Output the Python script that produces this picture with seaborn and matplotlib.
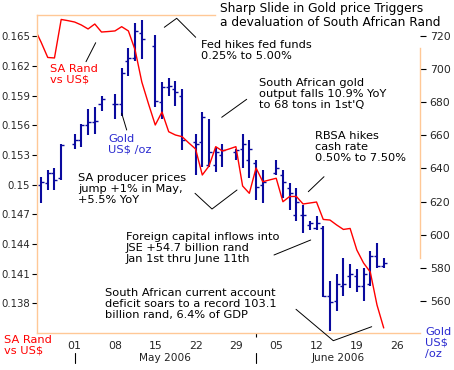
import numpy as np
import matplotlib
matplotlib.use('Agg')
import matplotlib.pyplot as plt
import matplotlib.ticker as mticker
import matplotlib.transforms as mtransforms
from matplotlib.lines import Line2D
import seaborn as sns

# Gold daily OHLC, US$/oz (two Sunday sessions in June)
gold_dates = ['2006-04-25', '2006-04-26', '2006-04-27', '2006-04-28',
              '2006-05-01', '2006-05-02', '2006-05-03', '2006-05-04', '2006-05-05',
              '2006-05-08', '2006-05-09', '2006-05-10', '2006-05-11', '2006-05-12',
              '2006-05-15', '2006-05-16', '2006-05-17', '2006-05-18', '2006-05-19',
              '2006-05-22', '2006-05-23', '2006-05-24', '2006-05-25', '2006-05-26',
              '2006-05-29', '2006-05-30', '2006-05-31', '2006-06-01', '2006-06-02',
              '2006-06-05', '2006-06-06', '2006-06-07', '2006-06-08', '2006-06-09',
              '2006-06-11', '2006-06-12', '2006-06-13', '2006-06-14', '2006-06-15',
              '2006-06-16', '2006-06-18', '2006-06-19', '2006-06-20', '2006-06-21',
              '2006-06-22', '2006-06-23']
gold_open = [630, 631, 637, 634, 655, 657, 666, 668, 679, 679, 679, 705, 707, 722,
             714, 680, 689, 688, 684, 656, 656, 642, 642, 648, 650, 652, 645, 643,
             630, 637, 636, 628, 612, 612, 606, 604, 604, 563, 560, 569, 575, 575,
             569, 570, 587, 581]
gold_high = [635, 639, 640, 655, 661, 667, 676, 677, 684, 685, 701, 713, 728, 730,
             721, 692, 695, 693, 688, 661, 674, 670, 653, 655, 652, 661, 657, 645,
             639, 645, 639, 631, 628, 618, 608, 611, 605, 572, 576, 586, 582, 579,
             580, 590, 595, 586]
gold_low = [619, 627, 627, 633, 652, 653, 660, 661, 675, 670, 672, 696, 705, 706,
            677, 670, 684, 678, 651, 636, 641, 641, 638, 641, 645, 640, 634, 621,
            619, 636, 622, 615, 608, 601, 603, 603, 562, 542, 554, 563, 568, 565,
            560, 569, 580, 580]
gold_close = [632, 637, 633, 654, 657, 666, 668, 669, 682, 679, 698, 707, 723, 718,
              681, 689, 690, 686, 657, 655, 671, 650, 650, 651, 651, 655, 652, 629,
              632, 640, 632, 625, 620, 612, 607, 607, 563, 559, 570, 570, 576, 569,
              576, 587, 581, 583]

# SA Rand vs US$
rand_dates = ['2006-04-24', '2006-04-25', '2006-04-26', '2006-04-27', '2006-04-28',
              '2006-04-30', '2006-05-01', '2006-05-02', '2006-05-03', '2006-05-04',
              '2006-05-05', '2006-05-07', '2006-05-08', '2006-05-09', '2006-05-10',
              '2006-05-11', '2006-05-12', '2006-05-14', '2006-05-15', '2006-05-16',
              '2006-05-17', '2006-05-18', '2006-05-19', '2006-05-21', '2006-05-22',
              '2006-05-23', '2006-05-24', '2006-05-25', '2006-05-26', '2006-05-28',
              '2006-05-29', '2006-05-30', '2006-05-31', '2006-06-01', '2006-06-02',
              '2006-06-04', '2006-06-05', '2006-06-06', '2006-06-07', '2006-06-08',
              '2006-06-09', '2006-06-11', '2006-06-12', '2006-06-13', '2006-06-14',
              '2006-06-15', '2006-06-16', '2006-06-18', '2006-06-19', '2006-06-20',
              '2006-06-21', '2006-06-22', '2006-06-23']
rand_values = [0.16583, 0.16441, 0.16285, 0.16280, 0.16669, 0.16657, 0.16643,
               0.16613, 0.16573, 0.16623, 0.16542, 0.16547, 0.16553, 0.16596,
               0.16553, 0.16361, 0.16037, 0.15815, 0.15603, 0.15734, 0.15535,
               0.15502, 0.15485, 0.15421, 0.15361, 0.15098, 0.15189, 0.15384,
               0.15340, 0.15361, 0.15384, 0.14987, 0.14913, 0.15169, 0.15030,
               0.15048, 0.15065, 0.14828, 0.14881, 0.14881, 0.14805, 0.14815,
               0.14825, 0.14649, 0.14643, 0.14593, 0.14548, 0.14558, 0.14340,
               0.14209, 0.14118, 0.13785, 0.13553]

rand_ticks = [0.138, 0.141, 0.144, 0.147, 0.15, 0.153, 0.156, 0.159, 0.162, 0.165]
gold_ticks = [560, 580, 600, 620, 640, 660, 680, 700, 720]
week_ticks = ['2006-05-01', '2006-05-08', '2006-05-15', '2006-05-22', '2006-05-29',
              '2006-06-05', '2006-06-12', '2006-06-19', '2006-06-26']
week_labels = ['01', '08', '15', '22', '29', '05', '12', '19', '26']
month_starts = ['2006-05-01', '2006-06-01']
month_labels = ['May 2006', 'June 2006']

W, H = 454, 370
SPINE = '#ffc896'
GOLD_C = '#0a0a9e'
RED = '#ff0000'
BLUE_TXT = '#2a2ad0'
FS = 8.2


def slot(d):
    # one slot per calendar day, Saturdays dropped (as on the chart axis)
    return np.busday_count(np.datetime64('2006-05-01'),
                           np.array(d, dtype='datetime64[D]'),
                           weekmask='1111101').astype(float)


sns.set_style('white')
plt.rcParams['font.family'] = ['DejaVu Sans']

fig = plt.figure(figsize=(W / 100, H / 100), dpi=100)
ax = fig.add_axes([37 / W, 37 / H, 383 / W, 318 / H])
ax2 = ax.twinx()

gx = slot(gold_dates)
ax2.vlines(gx, gold_low, gold_high, color=GOLD_C, lw=1.5)
ax2.hlines(gold_open, gx - 0.45, gx, color=GOLD_C, lw=1.0)
ax2.hlines(gold_close, gx, gx + 0.45, color=GOLD_C, lw=1.0)

sns.lineplot(x=slot(rand_dates), y=rand_values, ax=ax, color=RED, lw=1.0)
ax.set_zorder(ax2.get_zorder() + 1)
ax.patch.set_visible(False)

xmin, xmax = -5.6, 51.4
ax.set_xlim(xmin, xmax)
ax.set_ylim(0.13502, 0.16714)
ax2.set_ylim(540.5, 732.8)

ax.set_yticks(rand_ticks)
ax.yaxis.set_major_formatter(mticker.FuncFormatter(lambda v, p: f'{v:g}'))
ax2.set_yticks(gold_ticks)
ax.set_xticks(slot(week_ticks))
ax.set_xticklabels(week_labels)
ax.set_xticks(slot(month_starts), minor=True)

ax.tick_params(axis='y', direction='out', length=3.5, width=0.8, color='black',
               labelsize=7.3, pad=1.5, left=True)
ax2.tick_params(axis='y', direction='out', length=4, width=0.8, color='black',
                labelsize=7.8, pad=3, right=True)
ax.tick_params(axis='x', which='major', length=0, labelsize=7.8, pad=6)
ax.tick_params(axis='x', which='minor', direction='out', length=3, width=0.8,
               color='black', bottom=True)

for s in ['left', 'bottom', 'top']:
    ax.spines[s].set_color(SPINE)
    ax.spines[s].set_linewidth(1.0)
ax.spines['right'].set_visible(False)
ax.spines['top'].set_bounds(xmin, 20.9)
for s in ['left', 'bottom', 'top']:
    ax2.spines[s].set_visible(False)
ax2.spines['right'].set_color(SPINE)
ax2.spines['right'].set_linewidth(1.0)
ax2.spines['right'].set_bounds(586, 713)
ax.set_xlabel('')
ax.set_ylabel('')

# month separators and month names under the day labels
blend = mtransforms.blended_transform_factory(ax.transData, ax.transAxes)
ms = slot(month_starts)
edges = list(ms) + [xmax]
for i, m in enumerate(ms):
    ax.plot([m, m], [-0.063, -0.094], transform=blend, color='black', lw=0.8,
            clip_on=False)
    ax.text((edges[i] + edges[i + 1]) / 2, -0.079, month_labels[i], transform=blend,
            ha='center', va='center', fontsize=7.6, color='#222222')


def ftxt(x, y, s, color='black', size=FS):
    fig.text(x / W, 1 - y / H, s, color=color, fontsize=size, va='top', ha='left',
             linespacing=1.1)


def fline(xs, ys):
    fig.add_artist(Line2D(np.array(xs) / W, 1 - np.array(ys) / H,
                          transform=fig.transFigure, color='black', lw=0.7))


ftxt(220, 2, 'Sharp Slide in Gold price Triggers\na devaluation of South African Rand',
     size=8.8)
ftxt(201, 40, 'Fed hikes fed funds\n0.25% to 5.00%')
ftxt(259, 78, "South African gold\noutput falls 10.9% YoY\nto 68 tons in 1st'Q")
ftxt(315, 131, 'RBSA hikes\ncash rate\n0.50% to 7.50%')
ftxt(78, 173, 'SA producer prices\njump +1% in May,\n+5.5% YoY')
ftxt(126, 232, 'Foreign capital inflows into\nJSE +54.7 billion rand\nJan 1st thru June 11th')
ftxt(105, 288, 'South African current account\ndeficit soars to a record 103.1\n'
     'billion rand, 6.4% of GDP')
ftxt(50, 64, 'SA Rand\nvs US$', color=RED)
ftxt(108, 134, 'Gold\nUS$ /oz', color=BLUE_TXT)
ftxt(4, 335, 'SA Rand\nvs US$', color=RED)
ftxt(425, 327, 'Gold\nUS$\n/oz', color=BLUE_TXT)

fline([164.3, 176.7, 195.7], [27.3, 18.3, 37.3])
fline([221.7, 246.7], [117.3, 99.3])
fline([308.3, 324], [191.7, 176.7])
fline([195, 212, 237], [193.3, 209, 190])
fline([274, 310.7], [255, 240])
fline([296, 333.3, 371.7], [309.3, 340.7, 326.7])
fline([86, 95.7], [61.7, 42.7])
fline([121.7, 126.7], [113.3, 130])

fig.savefig('out.png', dpi=100, facecolor='white')
